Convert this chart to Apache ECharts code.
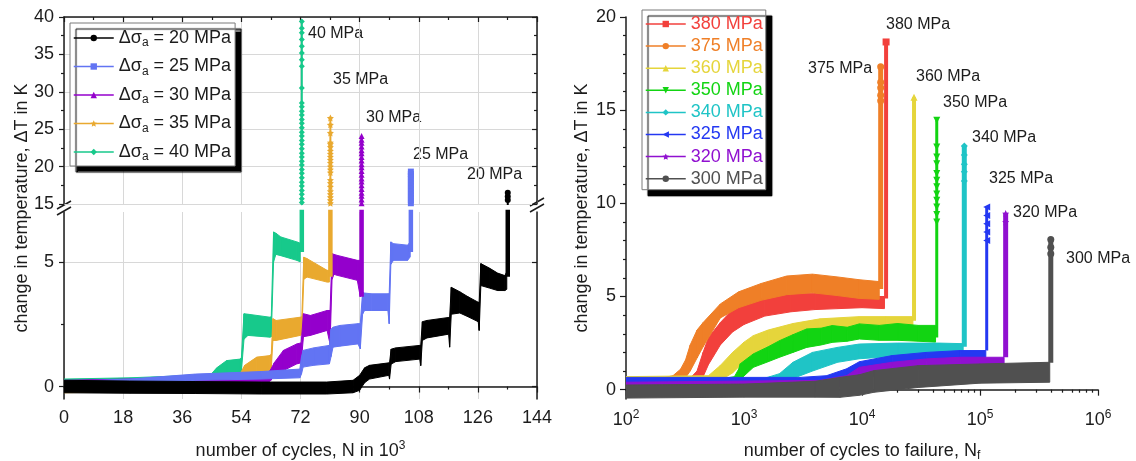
<!DOCTYPE html>
<html>
<head>
<meta charset="utf-8">
<script src="https://cdn.jsdelivr.net/npm/echarts@6/dist/echarts.min.js"></script>
<style>
  html, body { margin: 0; padding: 0; background: #ffffff; }
  #chart { width: 1136px; height: 461px; }
</style>
</head>
<body>
<div id="chart"></div>
<script>
// ---------------------------------------------------------------------------
// Left panel: load-increase tests, N in 10^3 cycles, band = lower / upper edge
// of the oscillating temperature signal, spike = final rise before failure.
// ---------------------------------------------------------------------------
const ampNames = ['20 MPa', '25 MPa', '30 MPa', '35 MPa', '40 MPa'];

const a20X  = [0, 20, 40, 60, 80, 88, 90, 91.5, 93, 98.9, 99.1, 99.6, 101, 108.3, 108.6, 109.1, 110.5, 117.1, 117.4, 117.9, 120.5, 123, 126.1, 126.4, 126.9, 129.5, 132, 134.2, 134.8];
const a20Lo = [-0.25, -0.27, -0.28, -0.3, -0.3, -0.25, -0.15, 0.15, 0.3, 0.45, 0.3, 0.9, 1.0, 1.1, 0.84, 1.85, 1.95, 2.1, 1.58, 2.9, 2.95, 2.8, 2.6, 2.25, 4.05, 3.95, 3.85, 3.85, 3.9];
const a20Hi = [0.25, 0.22, 0.2, 0.18, 0.18, 0.25, 0.45, 0.75, 0.85, 0.95, 0.95, 1.5, 1.55, 1.65, 1.65, 2.6, 2.65, 2.77, 2.77, 3.98, 3.8, 3.6, 3.38, 3.38, 4.93, 4.75, 4.55, 4.45, 4.6];
const a20SpikeX = 135.1;
const a20SpikeY = [4.4, 15.55, 16.0, 16.52];

const a25X  = [0, 20, 40, 60, 71.8, 72.3, 72.8, 76, 80.8, 81.3, 81.9, 84, 89.5, 90.2, 90.9, 91.5, 93.5, 98.6, 99.0, 99.5, 100.3, 104.6, 105.4];
const a25Lo = [-0.05, 0.05, 0.25, 0.3, 0.35, 0.5, 0.78, 0.85, 0.91, 1.2, 1.58, 1.62, 1.71, 1.51, 2.9, 3.05, 3.05, 3.05, 2.52, 4.9, 5.06, 5.06, 5.2];
const a25Hi = [0.2, 0.3, 0.5, 0.6, 0.7, 1.2, 1.45, 1.55, 1.65, 2.3, 2.38, 2.45, 2.52, 2.52, 3.79, 3.75, 3.72, 3.72, 3.72, 5.8, 5.73, 5.67, 5.8];
const a25SpikeX = 105.6;
const a25SpikeY = [5.4, 15.1, 15.5, 15.9, 16.3, 16.7, 17.1, 17.5, 17.9, 18.3, 18.7, 19.0, 19.33];

const a30X  = [0, 20, 40, 62, 63, 64, 66.8, 70.9, 72.2, 72.9, 75, 80.1, 81.0, 81.6, 82.2, 83.2, 89.3, 90.2];
const a30Lo = [-0.05, 0.0, 0.1, 0.15, 0.25, 0.45, 0.64, 0.91, 0.95, 2.0, 2.05, 2.25, 1.7, 4.3, 4.5, 4.46, 4.26, 3.6];
const a30Hi = [0.25, 0.3, 0.4, 0.5, 0.7, 0.95, 1.45, 1.71, 1.75, 2.92, 2.85, 3.05, 3.05, 5.33, 5.3, 5.26, 5.06, 5.06];
const a30SpikeX = 90.6;
const a30SpikeY = [3.6, 15.1, 15.6, 16.1, 16.5, 17.0, 17.5, 18.0, 18.4, 18.9, 19.4, 19.9, 20.3, 20.8, 21.3, 21.8, 22.2, 22.7, 23.2, 23.6, 24.1];

const a35X  = [0, 20, 40, 53, 54, 55, 58.7, 62.7, 63.1, 63.6, 64.6, 71.9, 72.4, 73, 74, 80.1, 80.8];
const a35Lo = [-0.25, -0.2, 0.0, 0.1, 0.25, 0.4, 0.57, 0.64, 0.7, 1.85, 1.85, 2.05, 2.1, 4.3, 4.39, 4.19, 4.19];
const a35Hi = [0.2, 0.25, 0.35, 0.45, 0.6, 0.85, 1.18, 1.24, 1.3, 2.72, 2.65, 2.78, 2.8, 5.19, 5.13, 4.66, 4.66];
const a35SpikeX = 81.1;
const a35SpikeY = [4.4, 15.1, 15.5, 15.9, 16.3, 16.7, 17.3, 17.8, 18.2, 19.2, 19.6, 20.0, 20.5, 20.9, 21.3, 21.7, 22.1, 22.6, 23.0, 23.2, 24.5, 25.6, 26.5];

const a40X  = [0, 20, 40, 44.5, 45.5, 46.5, 49.5, 53.6, 54.0, 54.8, 56, 62.7, 63.1, 63.8, 64.5, 66, 70.9, 71.9];
const a40Lo = [0.0, 0.05, 0.15, 0.15, 0.25, 0.35, 0.5, 0.57, 0.6, 1.9, 2.05, 1.98, 2.0, 5.0, 5.3, 5.25, 5.06, 5.0];
const a40Hi = [0.3, 0.35, 0.45, 0.45, 0.6, 0.75, 1.04, 1.1, 1.15, 2.92, 2.9, 2.78, 2.8, 6.2, 6.15, 6.0, 5.8, 5.75];
const a40SpikeX = 72.4;
const a40SpikeY = [5.4, 15.2, 15.7, 16.3, 16.8, 17.4, 17.9, 18.5, 19.1, 19.6, 20.2, 20.7, 21.3, 21.8, 22.4, 23.0, 23.5, 24.1, 24.6, 25.2, 25.8, 26.3, 26.9, 27.4, 28.0, 28.5, 30.5, 33.4, 34.3, 35.2, 36.1, 37.0, 37.9, 38.5, 39.4];

// ---------------------------------------------------------------------------
// Right panel: constant-amplitude tests, N = cycles (log axis)
// ---------------------------------------------------------------------------
const ampNamesR = ['380 MPa', '375 MPa', '360 MPa', '350 MPa', '340 MPa', '325 MPa', '320 MPa', '300 MPa'];

const r380N  = [100, 350, 400, 450, 500, 630, 800, 1000, 1500, 2500, 4000, 6300, 10000, 15500];
const r380Lo = [0.38, 0.4, 0.45, 0.7, 1.35, 2.4, 3.1, 3.5, 3.95, 4.18, 4.3, 4.35, 4.4, 4.35];
const r380Hi = [0.6, 0.62, 1.0, 2.0, 2.8, 3.6, 4.3, 4.6, 4.95, 5.14, 5.18, 5.1, 5.0, 5.0];
const r380FailN = 16000;
const r380SpikeY = [4.9, 18.66];

const r375N  = [200, 250, 290, 320, 350, 400, 450, 630, 900, 1400, 2300, 3800, 6200, 9500, 14000];
const r375Lo = [0.42, 0.45, 0.5, 0.65, 1.0, 1.7, 2.3, 3.85, 4.4, 4.8, 5.1, 5.2, 5.05, 4.9, 4.85];
const r375Hi = [0.62, 0.75, 1.1, 1.6, 2.4, 3.2, 3.6, 4.6, 5.25, 5.7, 6.1, 6.2, 6.05, 5.9, 5.8];
const r375FailN = 14400;
const r375SpikeY = [5.4, 15.5, 15.8, 16.2, 16.5, 17.33];

const r360N  = [100, 500, 630, 800, 1000, 1200, 1600, 2600, 4400, 9500, 16000, 27000];
const r360Lo = [0.45, 0.48, 0.5, 0.9, 1.5, 1.9, 2.35, 2.8, 3.05, 3.25, 3.35, 3.45];
const r360Hi = [0.7, 0.75, 1.3, 2.0, 2.55, 2.9, 3.2, 3.55, 3.8, 3.92, 3.92, 3.92];
const r360FailN = 27600;
const r360SpikeY = [3.7, 15.7];

const r350N  = [100, 700, 830, 900, 930, 1200, 1600, 2000, 2600, 3400, 4500, 5600, 7500, 9500, 14000, 20000, 30000, 42000];
const r350Lo = [0.4, 0.42, 0.45, 0.5, 0.55, 1.2, 1.5, 1.74, 2.0, 2.27, 2.4, 2.54, 2.6, 2.72, 2.65, 2.65, 2.6, 2.55];
const r350Hi = [0.6, 0.62, 0.7, 1.1, 1.39, 1.92, 2.3, 2.63, 2.95, 3.26, 3.3, 3.44, 3.35, 3.53, 3.45, 3.55, 3.45, 3.45];
const r350FailN = 43000;
const r350SpikeY = [2.8, 9.0, 9.4, 9.8, 10.16, 10.5, 10.89, 11.24, 11.6, 12.13, 12.49, 13.03, 14.46];

const r340N  = [100, 1500, 1660, 2000, 2600, 3800, 6200, 9500, 20000, 45000, 72000];
const r340Lo = [0.4, 0.42, 0.45, 0.5, 0.6, 1.0, 1.47, 1.66, 1.8, 1.95, 2.1];
const r340Hi = [0.6, 0.62, 0.7, 0.86, 1.47, 2.0, 2.27, 2.45, 2.5, 2.5, 2.47];
const r340FailN = 73600;
const r340SpikeY = [2.3, 11.2, 11.7, 12.1, 12.6, 13.08];

const r325N  = [100, 3000, 5000, 7400, 9500, 18000, 35000, 68000, 112000];
const r325Lo = [0.38, 0.4, 0.45, 0.6, 0.86, 1.29, 1.56, 1.65, 1.74];
const r325Hi = [0.66, 0.66, 0.75, 1.12, 1.5, 1.83, 2.0, 2.1, 2.1];
const r325FailN = 114000;
const r325SpikeY = [2.1, 8.0, 8.46, 8.9, 9.35, 9.8];

const r320N  = [100, 4400, 7400, 9500, 18000, 35000, 68000, 160000];
const r320Lo = [0.02, 0.05, 0.2, 0.57, 0.93, 1.11, 1.29, 1.38];
const r320Hi = [0.4, 0.5, 0.75, 1.2, 1.47, 1.65, 1.74, 1.74];
const r320FailN = 165000;
const r320SpikeY = [1.74, 9.0, 9.45];

const r300N  = [100, 1000, 4000, 6500, 9500, 12600, 30000, 100000, 390000];
const r300Lo = [-0.45, -0.4, -0.4, -0.41, -0.3, -0.14, 0.12, 0.35, 0.4];
const r300Hi = [0.25, 0.3, 0.45, 0.66, 0.8, 1.02, 1.29, 1.38, 1.47];
const r300FailN = 398000;
const r300SpikeY = [1.45, 7.3, 7.65, 8.06];

// Tick values
const leftLowerTicks = [0, 5];
const leftLowerMinor = [2.5];
const rightYTicks = [0, 5, 10, 15, 20];
const rightYMinor = [];
for (let v = 1; v < 20; v++) if (v % 5 !== 0) rightYMinor.push(v);
const logMinorTicks = [];
for (let e = 2; e < 6; e++) for (let k = 2; k <= 9; k++) logMinorTicks.push(k * Math.pow(10, e));

// ---------------------------------------------------------------------------
// Styling
// ---------------------------------------------------------------------------
const FONT = '"Liberation Sans", Arial, Helvetica, sans-serif';
const INK = '#1c1c1c';
const GRID_C = '#d8d8d8';
const STAR = 'path://M0,-10L2.9,-4L9.5,-3.1L4.7,1.5L5.9,8.1L0,5L-5.9,8.1L-4.7,1.5L-9.5,-3.1L-2.9,-4Z';

const leftColors  = { '20 MPa': '#000000', '25 MPa': '#6274f3', '30 MPa': '#9400cc', '35 MPa': '#e9a92f', '40 MPa': '#17c98b' };
const leftSymbols = { '20 MPa': 'circle', '25 MPa': 'rect', '30 MPa': 'triangle', '35 MPa': STAR, '40 MPa': 'diamond' };

const rightColors  = ['#f2403c', '#ef7f27', '#e5d53b', '#12d412', '#1fc4c6', '#2438f2', '#9010d0', '#505050'];
const rightSymbols = ['rect', 'circle', 'triangle', 'triangle', 'diamond', 'triangle', STAR, 'circle'];
const rightRotate  = [0, 0, 0, 180, 0, 90, 0, 0];
const rightSpikeW  = [4, 5, 4, 3, 5, 3, 5, 5];

const axisLine = { show: true, lineStyle: { color: INK, width: 1.5 } };
const tickLine = { color: INK, width: 1.2 };
const labelStyle = { fontSize: 18, color: INK, fontFamily: FONT };

// ---------------------------------------------------------------------------
// Series builders
// ---------------------------------------------------------------------------
function bandSeries(name, xs, lo, hi, color, xAxisIndex, yAxisIndex) {
  const rows = xs.map((x, i) => [x, lo[i], hi[i]]);
  return {
    type: 'custom', name, xAxisIndex, yAxisIndex, data: rows, silent: true, clip: true,
    encode: { x: 0, y: [1, 2] },
    renderItem(params, api) {
      const i = params.dataIndex;
      if (i >= rows.length - 1) return null;
      const a = rows[i], b = rows[i + 1];
      const pts = [api.coord([a[0], a[2]]), api.coord([b[0], b[2]]), api.coord([b[0], b[1]]), api.coord([a[0], a[1]])];
      return { type: 'polygon', shape: { points: pts }, style: { fill: color, stroke: color, lineWidth: 1 } };
    }
  };
}

function spikeData(x, ys) {
  return ys.map((y, i) => (i === 0 ? { value: [x, y], symbol: 'none' } : [x, y]));
}

const series = [];

// Left panel (drawn 40 -> 20 so the low-amplitude bands lie on top at the base)
const leftSets = [
  ['40 MPa', a40X, a40Lo, a40Hi, a40SpikeX, a40SpikeY],
  ['35 MPa', a35X, a35Lo, a35Hi, a35SpikeX, a35SpikeY],
  ['30 MPa', a30X, a30Lo, a30Hi, a30SpikeX, a30SpikeY],
  ['25 MPa', a25X, a25Lo, a25Hi, a25SpikeX, a25SpikeY],
  ['20 MPa', a20X, a20Lo, a20Hi, a20SpikeX, a20SpikeY]
];
leftSets.forEach(([name, xs, lo, hi, sx, sy]) => {
  const c = leftColors[name];
  // upper part of the broken axis: spike with markers
  series.push({
    type: 'line', name, xAxisIndex: 0, yAxisIndex: 0, data: spikeData(sx, sy), clip: true, silent: true,
    symbol: leftSymbols[name], symbolSize: name === '35 MPa' ? 7 : 6, showSymbol: true,
    lineStyle: { color: c, width: 2 }, itemStyle: { color: c }
  });
  // lower part: same spike, thick, no markers
  series.push({
    type: 'line', name, xAxisIndex: 1, yAxisIndex: 2, data: spikeData(sx, sy), clip: true, silent: true,
    showSymbol: false, symbol: 'none', lineStyle: { color: c, width: 4.5 }
  });
  series.push(bandSeries(name, xs, lo, hi, c, 1, 2));
});

// Right panel
const rightSets = [
  [r380N, r380Lo, r380Hi, r380FailN, r380SpikeY],
  [r375N, r375Lo, r375Hi, r375FailN, r375SpikeY],
  [r360N, r360Lo, r360Hi, r360FailN, r360SpikeY],
  [r350N, r350Lo, r350Hi, r350FailN, r350SpikeY],
  [r340N, r340Lo, r340Hi, r340FailN, r340SpikeY],
  [r325N, r325Lo, r325Hi, r325FailN, r325SpikeY],
  [r320N, r320Lo, r320Hi, r320FailN, r320SpikeY],
  [r300N, r300Lo, r300Hi, r300FailN, r300SpikeY]
];
rightSets.forEach(([ns, lo, hi, fn, sy], k) => {
  const name = ampNamesR[k], c = rightColors[k];
  series.push({
    type: 'line', name, xAxisIndex: 2, yAxisIndex: 5, data: spikeData(fn, sy), clip: true, silent: true,
    symbol: rightSymbols[k], symbolRotate: rightRotate[k], symbolSize: 7, showSymbol: true,
    lineStyle: { color: c, width: rightSpikeW[k] }, itemStyle: { color: c }
  });
  series.push(bandSeries(name, ns, lo, hi, c, 2, 5));
});

// ---------------------------------------------------------------------------
// Text annotations next to the failure spikes
// ---------------------------------------------------------------------------
const tagFont = { fontSize: 16, fontFamily: FONT, fill: INK, align: 'left', verticalAlign: 'middle' };
const tags = [
  ['40 MPa', 308, 34], ['35 MPa', 333, 80], ['30 MPa', 366, 118], ['25 MPa', 413, 155], ['20 MPa', 467, 175],
  ['380 MPa', 886, 25], ['375 MPa', 808, 69], ['360 MPa', 916, 77], ['350 MPa', 943, 103],
  ['340 MPa', 972, 138], ['325 MPa', 989, 179], ['320 MPa', 1013, 213], ['300 MPa', 1066, 259]
];
const graphic = tags.map(([t, x, y]) => ({ type: 'text', x, y, silent: true, style: Object.assign({ text: t }, tagFont) }));
graphic.push({
  type: 'text', x: 22, y: 208, rotation: Math.PI / 2, silent: true,
  style: { text: 'change in temperature, \u0394T in K', fontSize: 18, fontFamily: FONT, fill: INK, align: 'center', verticalAlign: 'middle' }
});
// axis-break marks on the left panel
[[57, 209, 71, 201], [57, 215, 71, 207], [530, 206, 544, 198], [530, 212, 544, 204]].forEach(([x1, y1, x2, y2]) => {
  graphic.push({ type: 'line', silent: true, shape: { x1, y1, x2, y2 }, style: { stroke: INK, lineWidth: 1.5 } });
});

// ---------------------------------------------------------------------------
// Option
// ---------------------------------------------------------------------------
const option = {
  animation: false,
  backgroundColor: '#ffffff',
  textStyle: { fontFamily: FONT },
  grid: [
    { left: 64, right: 599, top: 17, height: 187, outerBoundsMode: 'none' },
    { left: 64, right: 599, top: 212, height: 187, outerBoundsMode: 'none' },
    { left: 626, right: 38, top: 17, bottom: 62, outerBoundsMode: 'none' }
  ],
  xAxis: [
    {
      gridIndex: 0, type: 'value', position: 'top', min: 0, max: 144, interval: 18,
      axisLine, axisTick: { show: true, inside: true, length: 5, lineStyle: tickLine },
      minorTick: { show: true, splitNumber: 2, length: 3, lineStyle: tickLine },
      axisLabel: { show: false }, splitLine: { show: true, lineStyle: { color: GRID_C, width: 1 } }
    },
    {
      gridIndex: 1, type: 'value', position: 'bottom', min: 0, max: 144, interval: 18,
      axisLine, axisTick: { show: true, length: 6, lineStyle: tickLine },
      minorTick: { show: true, splitNumber: 2, length: 3, lineStyle: tickLine },
      axisLabel: Object.assign({ margin: 10 }, labelStyle),
      splitLine: { show: true, lineStyle: { color: GRID_C, width: 1 } },
      name: 'number of cycles, N in 10{sup|3}', nameLocation: 'middle', nameGap: 41,
      nameTextStyle: { fontSize: 18, color: INK, fontFamily: FONT, lineHeight: 22,
        rich: { sup: { fontSize: 12, lineHeight: 12, verticalAlign: 'top', color: INK, fontFamily: FONT } } }
    },
    {
      gridIndex: 2, type: 'log', logBase: 10, position: 'bottom', min: 100, max: 1000000,
      axisLine, axisTick: { show: true, length: 6, lineStyle: tickLine }, minorTick: { show: false },
      axisLabel: {
        margin: 10, color: INK, fontSize: 18, fontFamily: FONT, lineHeight: 22,
        formatter: v => '10{e|' + Math.round(Math.log10(v)) + '}',
        rich: { e: { fontSize: 12, lineHeight: 12, verticalAlign: 'top', color: INK, fontFamily: FONT } }
      },
      splitLine: { show: false },
      name: 'number of cycles to failure, N{sub|f}', nameLocation: 'middle', nameGap: 41,
      nameTextStyle: { fontSize: 18, color: INK, fontFamily: FONT, lineHeight: 22,
        rich: { sub: { fontSize: 12, lineHeight: 12, verticalAlign: 'bottom', color: INK, fontFamily: FONT } } }
    },
    {
      gridIndex: 2, type: 'log', logBase: 10, position: 'bottom', min: 100, max: 1000000,
      axisLine: { show: false }, axisLabel: { show: false }, splitLine: { show: false },
      axisTick: { show: true, length: 3, customValues: logMinorTicks, lineStyle: tickLine }
    }
  ],
  yAxis: [
    {
      gridIndex: 0, type: 'value', position: 'left', min: 15, max: 40, interval: 5,
      axisLine, axisTick: { show: true, length: 5, lineStyle: tickLine },
      minorTick: { show: true, splitNumber: 2, length: 3, lineStyle: tickLine },
      axisLabel: Object.assign({ margin: 10 }, labelStyle),
      splitLine: { show: true, lineStyle: { color: GRID_C, width: 1 } }
    },
    {
      gridIndex: 0, type: 'value', position: 'right', min: 15, max: 40, interval: 5,
      axisLine, axisTick: { show: true, inside: true, length: 5, lineStyle: tickLine },
      minorTick: { show: true, splitNumber: 2, length: 3, lineStyle: tickLine },
      axisLabel: { show: false }, splitLine: { show: false }
    },
    {
      gridIndex: 1, type: 'value', position: 'left', min: -0.5, max: 7,
      axisLine, axisTick: { show: true, length: 5, customValues: leftLowerTicks, lineStyle: tickLine },
      axisLabel: Object.assign({ margin: 10, customValues: leftLowerTicks }, labelStyle),
      splitLine: { show: true, lineStyle: { color: GRID_C, width: 1 } }
    },
    {
      gridIndex: 1, type: 'value', position: 'right', min: -0.5, max: 7,
      axisLine, axisTick: { show: true, inside: true, length: 5, customValues: leftLowerTicks, lineStyle: tickLine },
      axisLabel: { show: false }, splitLine: { show: false }
    },
    {
      gridIndex: 1, type: 'value', position: 'left', min: -0.5, max: 7,
      axisLine: { show: false }, axisLabel: { show: false }, splitLine: { show: false },
      axisTick: { show: true, length: 3, customValues: leftLowerMinor, lineStyle: tickLine }
    },
    {
      gridIndex: 2, type: 'value', position: 'left', min: -0.5, max: 20,
      axisLine, axisTick: { show: true, length: 6, customValues: rightYTicks, lineStyle: tickLine },
      axisLabel: Object.assign({ margin: 10, customValues: rightYTicks }, labelStyle),
      splitLine: { show: false },
      name: 'change in temperature, \u0394T in K', nameLocation: 'middle', nameGap: 35,
      nameTextStyle: { fontSize: 18, color: INK, fontFamily: FONT }
    },
    {
      gridIndex: 2, type: 'value', position: 'left', min: -0.5, max: 20,
      axisLine: { show: false }, axisLabel: { show: false }, splitLine: { show: false },
      axisTick: { show: true, length: 3, customValues: rightYMinor, lineStyle: tickLine }
    }
  ],
  legend: [
    {
      orient: 'vertical', left: 70, top: 23, selectedMode: false,
      data: ampNames,
      itemWidth: 40, itemHeight: 8, itemGap: 6.5, padding: [4, 4, 3, 3],
      backgroundColor: '#ffffff', borderColor: '#7a7a7a', borderWidth: 1,
      shadowColor: '#000000', shadowBlur: 1, shadowOffsetX: 6, shadowOffsetY: 6,
      lineStyle: { width: 1.5 },
      formatter: n => '{g|\u0394\u03c3}{s|a}{g| = ' + n + '}',
      textStyle: {
        color: INK, fontSize: 18, fontFamily: FONT, lineHeight: 22,
        rich: {
          g: { fontSize: 18, lineHeight: 22, color: INK, fontFamily: FONT },
          s: { fontSize: 12, lineHeight: 12, verticalAlign: 'bottom', color: INK, fontFamily: FONT }
        }
      }
    },
    {
      orient: 'vertical', left: 642, top: 10, selectedMode: false,
      data: ampNamesR.map((n, k) => ({ name: n, textStyle: { color: rightColors[k] } })),
      itemWidth: 40, itemHeight: 8, itemGap: 2.1, padding: [4, 3, 1, 3],
      backgroundColor: '#ffffff', borderColor: '#7a7a7a', borderWidth: 1,
      shadowColor: '#000000', shadowBlur: 1, shadowOffsetX: 6, shadowOffsetY: 6,
      lineStyle: { width: 1.5 },
      textStyle: { fontSize: 18, fontFamily: FONT, lineHeight: 20 }
    }
  ],
  graphic,
  series
};

const chart = echarts.init(document.getElementById('chart'), null, { renderer: 'canvas' });
chart.setOption(option);
</script>
</body>
</html>
